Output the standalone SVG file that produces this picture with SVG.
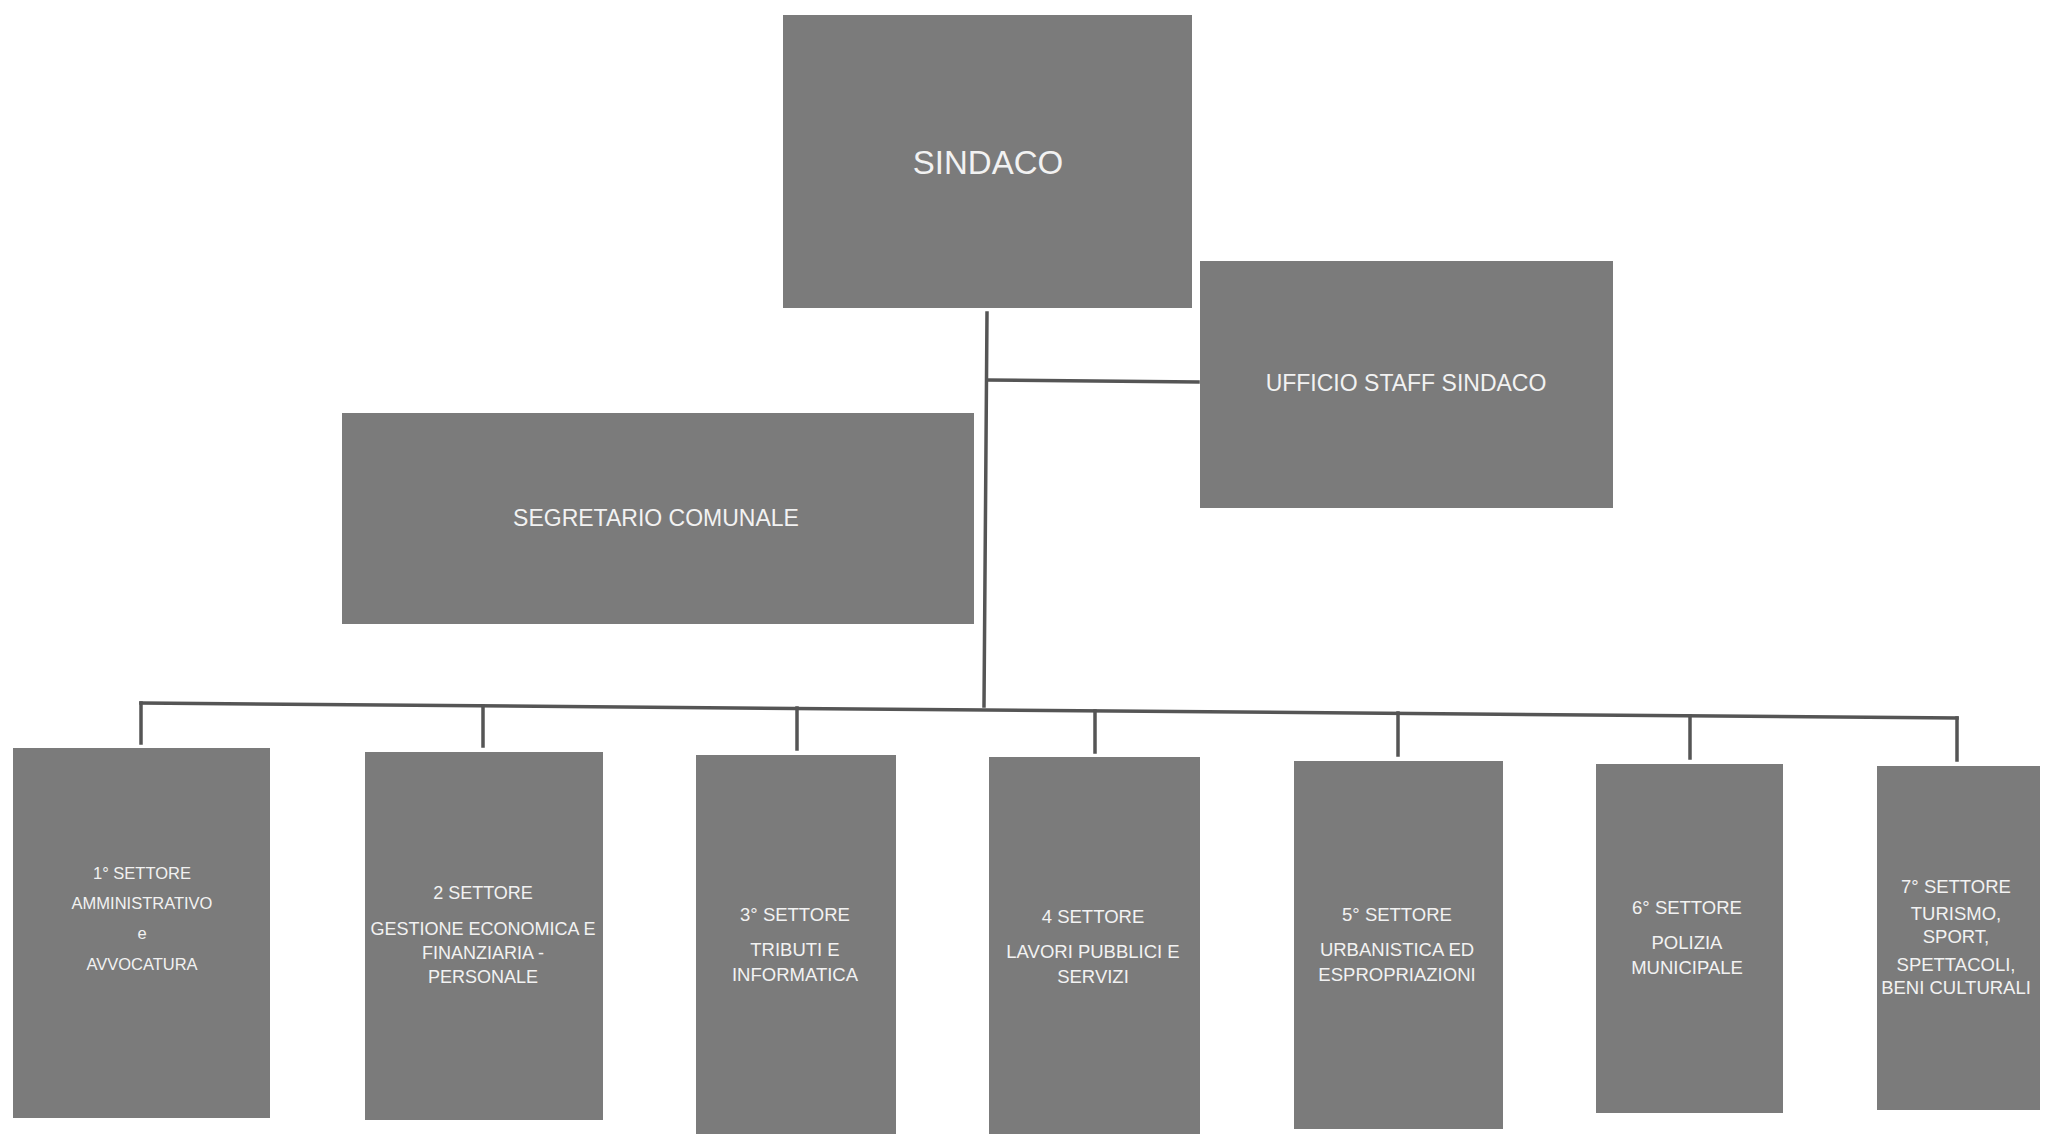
<svg xmlns="http://www.w3.org/2000/svg" width="2046" height="1134" viewBox="0 0 2046 1134">
<style>
.box{fill:#7b7b7b;}
.t{font-family:"Liberation Sans",Arial,sans-serif;fill:#f2f2f2;text-anchor:middle;}
.c{stroke:#555555;stroke-width:3.5;fill:none;stroke-linecap:square;}
</style>
<rect width="2046" height="1134" fill="#ffffff"/>
<g id="connectors">
<line class="c" x1="987" y1="313" x2="984" y2="706"/>
<line class="c" x1="987" y1="380" x2="1198" y2="382"/>
<line class="c" x1="141" y1="703" x2="1957" y2="718"/>
<line class="c" x1="141" y1="703" x2="141" y2="743"/>
<line class="c" x1="483" y1="706" x2="483" y2="746"/>
<line class="c" x1="797" y1="708" x2="797" y2="749"/>
<line class="c" x1="1095" y1="711" x2="1095" y2="752"/>
<line class="c" x1="1398" y1="713" x2="1398" y2="755"/>
<line class="c" x1="1690" y1="716" x2="1690" y2="758"/>
<line class="c" x1="1957" y1="718" x2="1957" y2="760"/>
</g>
<g id="sindaco">
<rect class="box" x="783" y="15" width="409" height="293"/>
<text class="t" x="988" y="174" font-size="33">SINDACO</text>
</g>
<g id="ufficio-staff">
<rect class="box" x="1200" y="261" width="413" height="247"/>
<text class="t" x="1406" y="391" font-size="23">UFFICIO STAFF SINDACO</text>
</g>
<g id="segretario">
<rect class="box" x="342" y="413" width="632" height="211"/>
<text class="t" x="656" y="526" font-size="23">SEGRETARIO COMUNALE</text>
</g>
<g id="settore1">
<rect class="box" x="13" y="748" width="257" height="370"/>
<text class="t" font-size="16.5"><tspan x="142" y="879">1° SETTORE</tspan><tspan x="142" y="909">AMMINISTRATIVO</tspan><tspan x="142" y="939">e</tspan><tspan x="142" y="970">AVVOCATURA</tspan></text>
</g>
<g id="settore2">
<rect class="box" x="365" y="752" width="238" height="368"/>
<text class="t" font-size="18"><tspan x="483" y="899">2 SETTORE</tspan><tspan x="483" y="935">GESTIONE ECONOMICA E</tspan><tspan x="483" y="959">FINANZIARIA -</tspan><tspan x="483" y="983">PERSONALE</tspan></text>
</g>
<g id="settore3">
<rect class="box" x="696" y="755" width="200" height="379"/>
<text class="t" font-size="18.5"><tspan x="795" y="921">3° SETTORE</tspan><tspan x="795" y="956">TRIBUTI E</tspan><tspan x="795" y="981">INFORMATICA</tspan></text>
</g>
<g id="settore4">
<rect class="box" x="989" y="757" width="211" height="377"/>
<text class="t" font-size="18.5"><tspan x="1093" y="923">4 SETTORE</tspan><tspan x="1093" y="958">LAVORI PUBBLICI E</tspan><tspan x="1093" y="983">SERVIZI</tspan></text>
</g>
<g id="settore5">
<rect class="box" x="1294" y="761" width="209" height="368"/>
<text class="t" font-size="18.5"><tspan x="1397" y="921">5° SETTORE</tspan><tspan x="1397" y="956">URBANISTICA ED</tspan><tspan x="1397" y="981">ESPROPRIAZIONI</tspan></text>
</g>
<g id="settore6">
<rect class="box" x="1596" y="764" width="187" height="349"/>
<text class="t" font-size="18.5"><tspan x="1687" y="914">6° SETTORE</tspan><tspan x="1687" y="949">POLIZIA</tspan><tspan x="1687" y="974">MUNICIPALE</tspan></text>
</g>
<g id="settore7">
<rect class="box" x="1877" y="766" width="163" height="344"/>
<text class="t" font-size="18.5"><tspan x="1956" y="893">7° SETTORE</tspan><tspan x="1956" y="920">TURISMO,</tspan><tspan x="1956" y="943">SPORT,</tspan><tspan x="1956" y="971">SPETTACOLI,</tspan><tspan x="1956" y="994">BENI CULTURALI</tspan></text>
</g>
</svg>
